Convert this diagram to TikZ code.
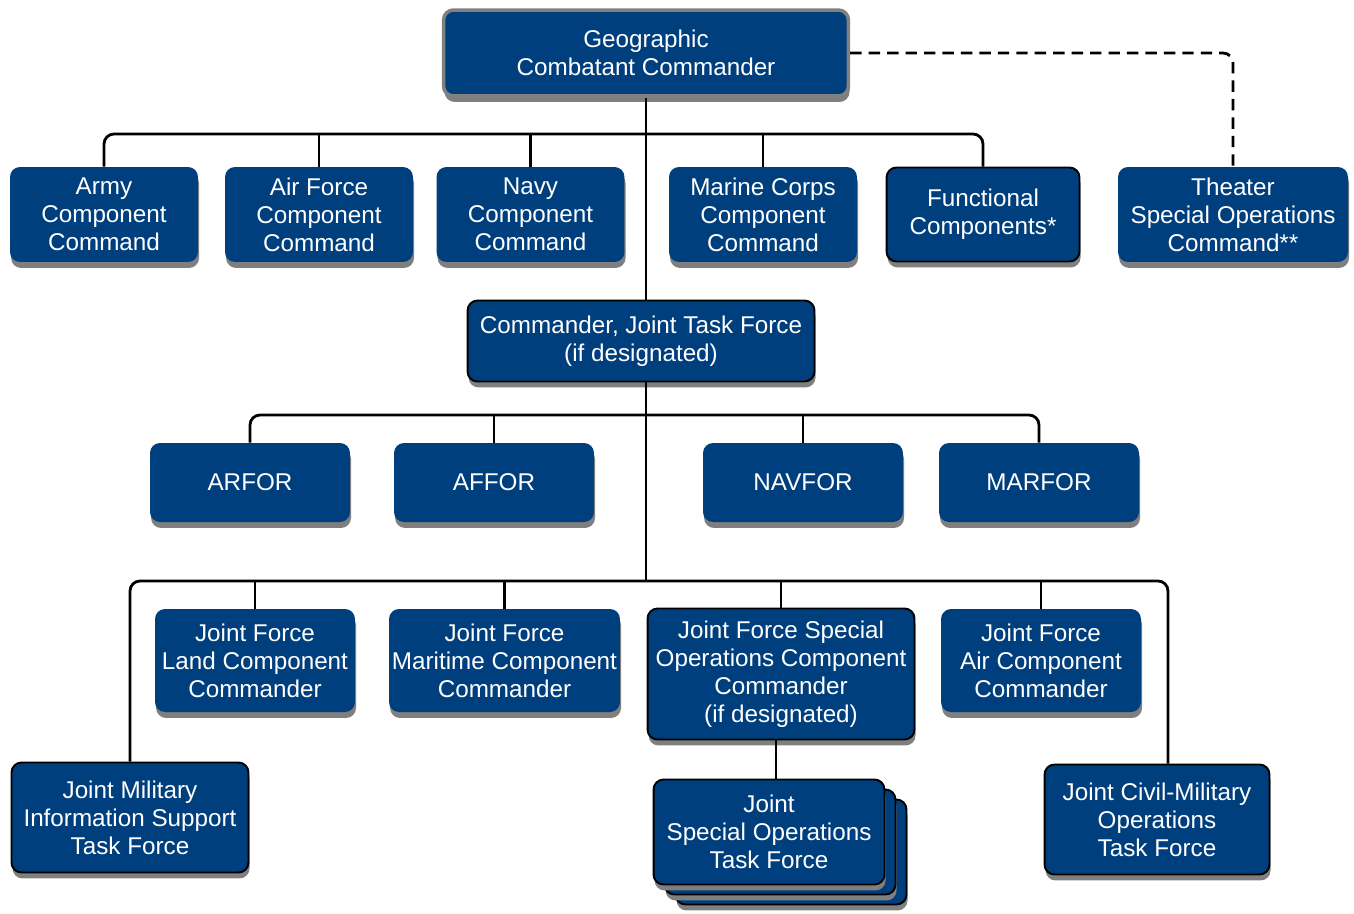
\documentclass[tikz,border=0pt]{standalone}
\usepackage{fontspec}
\setmainfont{Liberation Sans}
\usetikzlibrary{shadows}
\definecolor{boxblue}{HTML}{003F7D}
\definecolor{shadegray}{HTML}{7F7F7F}
\tikzset{
  unit/.style={rounded corners=0.2cm, fill=boxblue, text=white, align=center, inner sep=0pt,
    font=\fontsize{13.8}{15.9}\selectfont,
    drop shadow={shadow xshift=0.6pt, shadow yshift=-3.4pt, fill=shadegray, opacity=1}},
  edged/.style={unit, draw=black, line width=1.1pt},
  link/.style={line width=1.6pt, rounded corners=0.2cm},
}
\begin{document}
\begin{tikzpicture}[x=0.02cm,y=-0.02cm]
  \useasboundingbox (0,0) rectangle (1354,913);
\node[unit, draw=gray, line width=2pt, minimum width=8.1cm, minimum height=1.72cm] (gcc) at (646,53) {Geographic\\Combatant Commander};
\node[unit, minimum width=3.76cm, minimum height=1.9cm] (army) at (104,214.5) {Army\\Component\\Command};
\node[unit, minimum width=3.76cm, minimum height=1.9cm] (airforce) at (319,214.5) {Air Force\\Component\\Command};
\node[unit, minimum width=3.76cm, minimum height=1.9cm] (navy) at (530.5,214.5) {Navy\\Component\\Command};
\node[unit, minimum width=3.76cm, minimum height=1.9cm] (marine) at (763,214.5) {Marine Corps\\Component\\Command};
\node[edged, minimum width=3.86cm, minimum height=1.88cm] (functional) at (983,214.5) {Functional\\Components*};
\node[unit, minimum width=4.6cm, minimum height=1.9cm] (tsoc) at (1233,214.5) {Theater\\Special Operations\\Command**};
\node[edged, minimum width=6.94cm, minimum height=1.62cm] (cjtf) at (641,341) {Commander, Joint Task Force\\(if designated)};
\node[unit, minimum width=4cm, minimum height=1.58cm] (arfor) at (250,482.5) {ARFOR};
\node[unit, minimum width=4cm, minimum height=1.58cm] (affor) at (494,482.5) {AFFOR};
\node[unit, minimum width=4cm, minimum height=1.58cm] (navfor) at (803,482.5) {NAVFOR};
\node[unit, minimum width=4cm, minimum height=1.58cm] (marfor) at (1039,482.5) {MARFOR};
\node[unit, minimum width=4cm, minimum height=2.06cm] (jflcc) at (255,660.5) {Joint Force\\Land Component\\Commander};
\node[unit, minimum width=4.62cm, minimum height=2.06cm] (jfmcc) at (504.5,660.5) {Joint Force\\Maritime Component\\Commander};
\node[edged, minimum width=5.34cm, minimum height=2.62cm] (jfsocc) at (781,674) {Joint Force Special\\Operations Component\\Commander\\(if designated)};
\node[unit, minimum width=4cm, minimum height=2.06cm] (jfacc) at (1041,660.5) {Joint Force\\Air Component\\Commander};
\node[edged, minimum width=4.74cm, minimum height=2.2cm] (jmistf) at (130,817.5) {Joint Military\\Information Support\\Task Force};
%stacked task forces
\foreach \d in {2,1}
  \node[edged, minimum width=4.62cm, minimum height=2.1cm] (jsotf\d) at (769+11*\d,832+10*\d) {};
\node[edged, minimum width=4.62cm, minimum height=2.1cm] (jsotf) at (769,832) {Joint\\Special Operations\\Task Force};
\node[edged, minimum width=4.5cm, minimum height=2.2cm] (jcmotf) at (1157,819.5) {Joint Civil-Military\\Operations\\Task Force};

\coordinate (bus1) at (646,134);
\coordinate (bus2) at (646,415);
\coordinate (bus3) at (646,581);
\draw[link] (gcc.south) -- (gcc.south |- cjtf.north);
\draw[link] (army.north) |- (bus1) -| (functional.north);
\foreach \n in {airforce,navy,marine}
  \draw[link] (\n.north) -- (\n.north |- bus1);
\draw[link, dash pattern=on 6.5pt off 4pt] (gcc.east) -| (tsoc.north);
\draw[link] (cjtf.south -| gcc.south) -- (bus3);
\draw[link] (arfor.north) |- (bus2) -| (marfor.north);
\foreach \n in {affor,navfor}
  \draw[link] (\n.north) -- (\n.north |- bus2);
\draw[link] (jmistf.north) |- (bus3) -| ([xshift=0.22cm]jcmotf.north);
\foreach \n in {jflcc,jfmcc,jfsocc,jfacc}
  \draw[link] (\n.north) -- (\n.north |- bus3);
\draw[link] ([xshift=-0.1cm]jfsocc.south) -- ([xshift=-0.1cm]jfsocc.south |- jsotf.north);
\end{tikzpicture}
\end{document}
